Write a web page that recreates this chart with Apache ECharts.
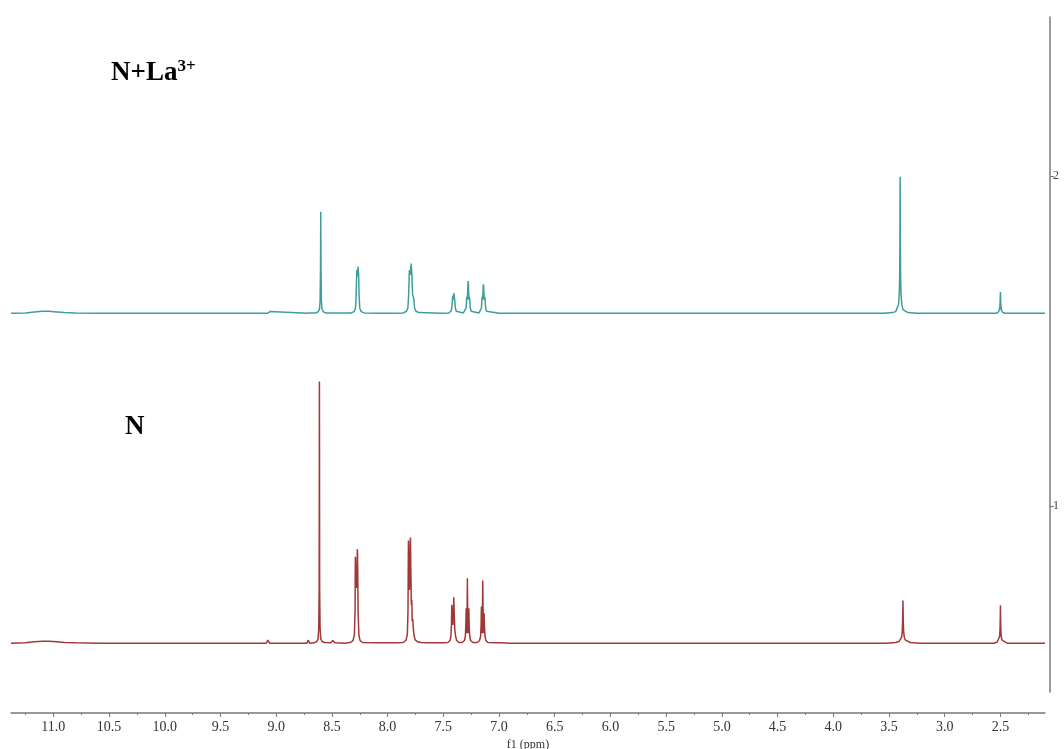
<!DOCTYPE html>
<html><head><meta charset="utf-8">
<script src="https://cdn.jsdelivr.net/npm/echarts@6/dist/echarts.min.js"></script>
<style>html,body{margin:0;padding:0;background:#fff}#c{width:1064px;height:749px}</style>
</head><body><div id="c"></div>
<script>
// x tick values (ppm)
const majorTicks = [11.0,10.5,10.0,9.5,9.0,8.5,8.0,7.5,7.0,6.5,6.0,5.5,5.0,4.5,4.0,3.5,3.0,2.5];
const minorTicks = [11.25,10.75,10.25,9.75,9.25,8.75,8.25,7.75,7.25,6.75,6.25,5.75,5.25,4.75,4.25,3.75,3.25,2.75,2.25];
const yTicks = [1, 2];
// N + La3+ spectrum traced [ppm, intensity]
const spectrumNLa = [
 [11.38,1.584],[11.25,1.585],[11.17,1.588],[11.10,1.590],[11.04,1.590],[10.97,1.588],[10.90,1.586],[10.80,1.585],[10.6,1.584],
 [9.075,1.584],[9.063,1.586],[9.057,1.589],[9.051,1.586],[9.04,1.584],
 [8.72,1.584],[8.71,1.585],[8.705,1.588],[8.70,1.585],[8.69,1.584],
 [8.65,1.585],[8.625,1.588],[8.612,1.595],[8.606,1.62],[8.602,1.72],[8.600,1.892],[8.598,1.72],[8.594,1.62],[8.588,1.595],[8.575,1.588],[8.55,1.585],
 [8.33,1.585],[8.30,1.589],[8.288,1.60],[8.282,1.64],[8.278,1.70],[8.276,1.715],[8.270,1.695],[8.265,1.725],[8.263,1.730],[8.260,1.70],[8.256,1.64],[8.250,1.60],[8.238,1.589],[8.21,1.585],
 [8.09,1.584],[8.077,1.587],[8.065,1.584],
 [7.935,1.584],[7.922,1.587],[7.91,1.584],
 [7.86,1.585],[7.83,1.590],[7.818,1.60],[7.811,1.64],[7.806,1.70],[7.804,1.715],[7.797,1.70],[7.788,1.735],[7.786,1.740],[7.782,1.70],[7.776,1.64],[7.770,1.640],[7.768,1.645],[7.765,1.63],[7.758,1.60],[7.745,1.590],[7.72,1.586],
 [7.52,1.584],[7.508,1.587],[7.496,1.584],
 [7.45,1.585],[7.432,1.59],[7.424,1.60],[7.418,1.625],[7.415,1.637],[7.410,1.625],[7.405,1.645],[7.403,1.649],[7.398,1.625],[7.392,1.60],[7.384,1.59],[7.37,1.585],
 [7.32,1.585],[7.303,1.59],[7.295,1.60],[7.291,1.625],[7.289,1.634],[7.284,1.625],[7.279,1.67],[7.277,1.682],[7.275,1.67],[7.270,1.625],[7.266,1.634],[7.263,1.625],[7.258,1.60],[7.25,1.59],[7.235,1.585],
 [7.18,1.585],[7.166,1.59],[7.158,1.60],[7.154,1.625],[7.152,1.634],[7.147,1.625],[7.142,1.665],[7.140,1.672],[7.138,1.665],[7.133,1.625],[7.128,1.634],[7.125,1.625],[7.12,1.60],[7.112,1.59],[7.10,1.585],[7.0,1.584],
 [3.55,1.584],[3.47,1.586],[3.44,1.589],[3.425,1.595],[3.415,1.61],[3.408,1.64],[3.404,1.70],[3.402,1.80],[3.400,1.998],[3.398,1.80],[3.396,1.70],[3.392,1.64],[3.385,1.61],[3.375,1.595],[3.36,1.589],[3.33,1.586],[3.25,1.584],
 [2.54,1.584],[2.52,1.587],[2.508,1.595],[2.503,1.615],[2.500,1.648],[2.497,1.615],[2.492,1.595],[2.48,1.587],[2.46,1.584],[2.10,1.584]
];
// N spectrum traced [ppm, intensity]
const spectrumN = [
 [11.38,0.584],[11.25,0.585],[11.17,0.588],[11.10,0.590],[11.04,0.590],[10.97,0.588],[10.90,0.586],[10.80,0.585],[10.6,0.584],
 [9.09,0.584],[9.078,0.588],[9.074,0.593],[9.07,0.588],[9.06,0.584],
 [8.77,0.584],[8.756,0.586],[8.745,0.584],
 [8.725,0.584],[8.715,0.588],[8.711,0.593],[8.707,0.588],[8.70,0.584],
 [8.66,0.585],[8.635,0.589],[8.624,0.597],[8.618,0.63],[8.614,0.75],[8.612,1.377],[8.610,0.75],[8.606,0.63],[8.600,0.597],[8.588,0.589],[8.565,0.586],
 [8.51,0.585],[8.50,0.589],[8.492,0.592],[8.484,0.589],[8.47,0.585],
 [8.38,0.584],[8.366,0.587],[8.355,0.585],
 [8.335,0.586],[8.31,0.592],[8.298,0.61],[8.292,0.68],[8.290,0.82],[8.289,0.846],[8.285,0.78],[8.280,0.751],[8.275,0.78],[8.272,0.86],[8.271,0.869],[8.268,0.80],[8.265,0.68],[8.258,0.61],[8.247,0.592],[8.225,0.586],
 [8.10,0.585],[8.092,0.589],[8.084,0.585],
 [7.945,0.585],[7.935,0.589],[7.925,0.585],
 [7.86,0.586],[7.835,0.593],[7.823,0.61],[7.817,0.68],[7.815,0.80],[7.813,0.895],[7.808,0.80],[7.804,0.745],[7.800,0.80],[7.797,0.89],[7.795,0.904],[7.791,0.79],[7.787,0.70],[7.783,0.715],[7.779,0.65],[7.776,0.652],[7.774,0.657],[7.770,0.63],[7.762,0.605],[7.75,0.593],[7.73,0.588],[7.70,0.586],
 [7.645,0.585],[7.634,0.587],[7.622,0.585],
 [7.52,0.585],[7.505,0.588],[7.49,0.585],
 [7.46,0.586],[7.44,0.592],[7.432,0.605],[7.427,0.64],[7.424,0.700],[7.419,0.66],[7.415,0.639],[7.411,0.66],[7.406,0.723],[7.401,0.66],[7.397,0.625],[7.39,0.605],[7.38,0.592],[7.36,0.586],
 [7.33,0.586],[7.31,0.592],[7.302,0.605],[7.298,0.64],[7.295,0.690],[7.290,0.614],[7.286,0.70],[7.284,0.781],[7.282,0.70],[7.277,0.614],[7.271,0.690],[7.268,0.64],[7.263,0.605],[7.255,0.592],[7.235,0.586],
 [7.195,0.586],[7.175,0.592],[7.165,0.605],[7.161,0.64],[7.158,0.695],[7.153,0.614],[7.148,0.70],[7.146,0.774],[7.144,0.70],[7.140,0.614],[7.134,0.675],[7.131,0.64],[7.126,0.605],[7.118,0.592],[7.10,0.586],
 [7.01,0.585],[6.996,0.588],[6.982,0.585],[6.90,0.584],
 [3.52,0.584],[3.44,0.586],[3.41,0.589],[3.395,0.594],[3.387,0.602],[3.381,0.62],[3.378,0.65],[3.376,0.69],[3.375,0.713],[3.374,0.69],[3.372,0.65],[3.369,0.62],[3.363,0.602],[3.355,0.594],[3.34,0.589],[3.31,0.586],[3.23,0.584],
 [2.56,0.584],[2.53,0.587],[2.515,0.593],[2.507,0.605],[2.503,0.63],[2.501,0.67],[2.500,0.699],[2.499,0.67],[2.497,0.63],[2.493,0.605],[2.485,0.593],[2.47,0.587],[2.44,0.584],[2.10,0.584]
];
const X_MIN = 2.10, X_MAX = 11.38, Y_MIN = 0.436, Y_MAX = 2.482;

const chart = echarts.init(document.getElementById('c'), null, {renderer:'canvas'});
const axisGray = '#7a7a7a';
const labelFont = 'Liberation Serif';
chart.setOption({
  animation:false,
  grid:{left:11, right:19, top:17, bottom:57, outerBoundsMode:'none', containLabel:false},
  xAxis:[{
    type:'value', inverse:true, min:X_MIN, max:X_MAX, position:'bottom', offset:21,
    name:'f1 (ppm)', nameLocation:'middle', nameGap:25,
    nameTextStyle:{fontFamily:labelFont, fontSize:12, color:'#333'},
    axisLine:{show:true, lineStyle:{color:axisGray, width:1.5}},
    axisTick:{show:true, inside:false, length:4, customValues:majorTicks, lineStyle:{color:axisGray, width:1}},
    axisLabel:{show:true, customValues:majorTicks, margin:7, fontFamily:labelFont, fontSize:14, color:'#333',
      formatter:v=>Number(v).toFixed(1)},
    splitLine:{show:false}
  },{
    type:'value', inverse:true, min:X_MIN, max:X_MAX, position:'bottom', offset:21,
    axisLine:{show:false},
    axisTick:{show:true, length:2, customValues:minorTicks, lineStyle:{color:axisGray, width:1}},
    axisLabel:{show:false},
    splitLine:{show:false}
  }],
  yAxis:[{
    type:'value', min:Y_MIN, max:Y_MAX, position:'right', offset:5,
    axisLine:{show:true, lineStyle:{color:axisGray, width:1.5}},
    axisTick:{show:true, length:4, customValues:yTicks, lineStyle:{color:axisGray}},
    axisLabel:{show:true, customValues:yTicks, margin:3, fontFamily:labelFont, fontSize:12, color:'#444'},
    splitLine:{show:false}
  }],
  series:[
    {type:'line', name:'N+La3+', data:spectrumNLa, xAxisIndex:0, yAxisIndex:0, showSymbol:false, silent:true,
     lineStyle:{color:'#3f9d9d', width:1.5}},
    {type:'line', name:'N', data:spectrumN, xAxisIndex:0, yAxisIndex:0, showSymbol:false, silent:true,
     lineStyle:{color:'#a23737', width:1.5}}
  ],
  graphic:[
    {type:'text', x:111, y:58, style:{text:'{a|N+La}{b|3+}', rich:{
       a:{fontFamily:labelFont, fontWeight:'bold', fontSize:27, color:'#000', lineHeight:30},
       b:{fontFamily:labelFont, fontWeight:'bold', fontSize:17, color:'#000', verticalAlign:'top', lineHeight:14}
     }}},
    {type:'text', x:125, y:414, style:{text:'N', fontFamily:labelFont, fontWeight:'bold', fontSize:27, fill:'#000'}}
  ]
});
</script></body></html>
